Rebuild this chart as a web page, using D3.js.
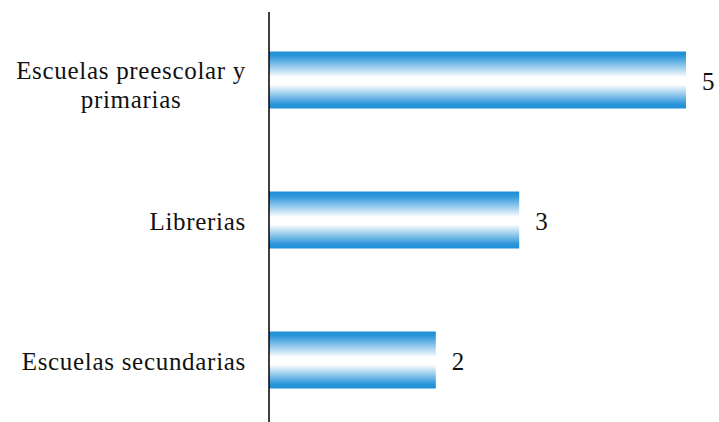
<!DOCTYPE html>
<meta charset='utf-8'>
<style>
body { margin: 0; background: #fff; }
</style>
<svg width='719' height='422'></svg>
<script src='https://d3js.org/d3.v7.min.js'></script>
<script>

var categories = ['Escuelas preescolar y primarias', 'Librerias', 'Escuelas secundarias'];
var values = [5, 3, 2];
// how the long labels break into lines
var labelLines = [['Escuelas preescolar y', 'primarias'], ['Librerias'], ['Escuelas secundarias']];

var font = "'Liberation Serif', Tinos, 'Times New Roman', 'DejaVu Serif', serif";

var svg = d3.select('svg')
  .style('font-family', font);

var x = d3.scaleLinear().domain([0, 5]).range([269, 686]);
var y = d3.scaleBand().domain(categories).range([10, 430])
  .paddingInner(0.593).paddingOuter(0.2965);

// blue - white - blue shading of the bars
var grad = svg.append('defs').append('linearGradient')
  .attr('id', 'barShade')
  .attr('x1', 0).attr('y1', 0).attr('x2', 0).attr('y2', 1);
grad.append('stop').attr('offset', '0%').attr('stop-color', '#1b8fd8');
grad.append('stop').attr('offset', '8%').attr('stop-color', '#2d96da');
grad.append('stop').attr('offset', '45%').attr('stop-color', '#ffffff');
grad.append('stop').attr('offset', '58%').attr('stop-color', '#ffffff');
grad.append('stop').attr('offset', '92%').attr('stop-color', '#2d96da');
grad.append('stop').attr('offset', '100%').attr('stop-color', '#1b8fd8');

svg.append('g')
  .selectAll('rect')
  .data(categories)
  .enter().append('rect')
    .attr('x', x(0))
    .attr('y', d => y(d))
    .attr('width', (d, i) => x(values[i]) - x(0))
    .attr('height', y.bandwidth())
    .attr('fill', 'url(#barShade)');

// value labels
svg.append('g')
  .selectAll('text')
  .data(categories)
  .enter().append('text')
    .attr('font-family', font)
    .attr('font-size', 25)
    .attr('fill', '#111')
    .attr('x', (d, i) => x(values[i]) + 16)
    .attr('y', d => y(d) + y.bandwidth() / 2)
    .attr('dy', '0.4em')
    .text((d, i) => values[i]);

// category labels, right edge at 246, multi-line ones centred on each other
var labelRight = 246, lineGap = 29;
categories.forEach(function(c, i) {
  var lines = labelLines[i];
  var g = svg.append('g');
  var cy = y(c) + y.bandwidth() / 2 + (lines.length > 1 ? 3 : 0);
  var t = g.selectAll('text').data(lines).enter().append('text')
    .attr('font-family', font)
    .attr('font-size', 25)
    .attr('letter-spacing', 0.7)
    .attr('fill', '#111')
    .attr('dy', '0.4em')
    .attr('y', (d, j) => cy + (j - (lines.length - 1) / 2) * lineGap)
    .text(d => d);
  var w = d3.max(t.nodes(), n => n.getComputedTextLength());
  t.attr('text-anchor', 'middle').attr('x', labelRight - w / 2);
});

// vertical axis line
svg.append('line')
  .attr('x1', x(0)).attr('x2', x(0))
  .attr('y1', 12).attr('y2', 422)
  .attr('stroke', '#000')
  .attr('stroke-width', 1.5);

</script>
